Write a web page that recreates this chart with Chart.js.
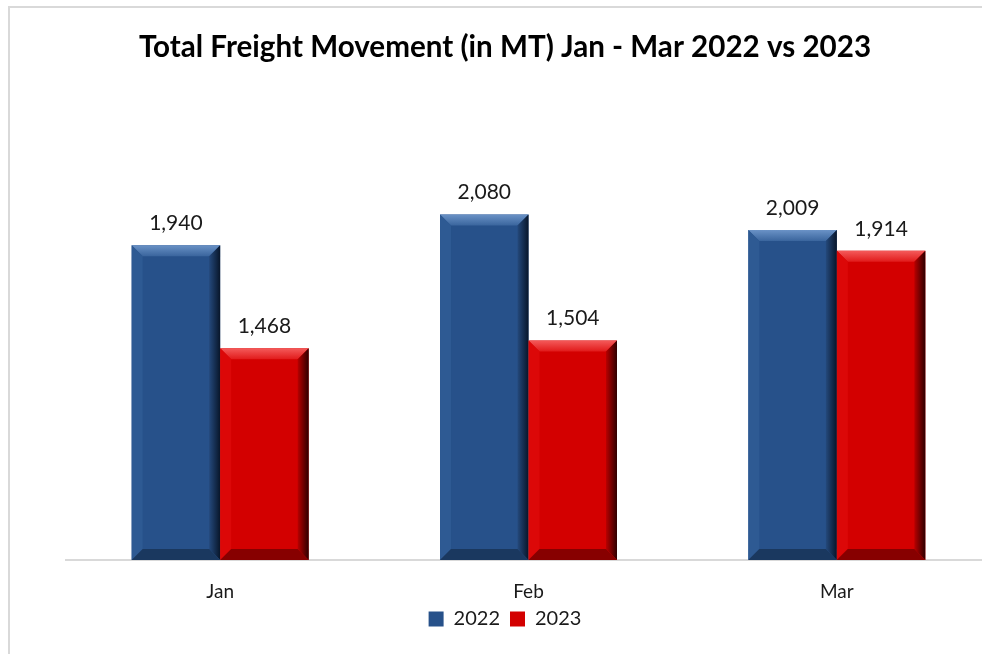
<!DOCTYPE html>
<html>
<head>
<meta charset="utf-8">
<script src="https://cdn.jsdelivr.net/npm/chart.js@4.4.0/dist/chart.umd.min.js"></script>
<style>
  html, body { margin: 0; padding: 0; background: #fff; overflow: hidden; }
  #frame {
    position: absolute; left: 8px; top: 6px;
    border-left: 2px solid #d9d9d9; border-top: 2px solid #d9d9d9;
    width: 990px; height: 660px;
  }
  canvas { display: block; }
</style>
</head>
<body>
<div id="frame"><canvas id="freight-chart" width="990" height="646"></canvas></div>
<script>
const CATEGORIES = ["Jan", "Feb", "Mar"];
const SERIES_NAMES = ["2022", "2023"];
const VALUES_2022 = [1940, 2080, 2009];
const VALUES_2023 = [1468, 1504, 1914];
const Y_MIN = 500;
const Y_MAX = 2500;

const FONT = "Lato, 'Open Sans', sans-serif";

// body / bevel shades per series
const BAR_STYLE = [
  { body: "#27518a", top: ["#6a92c6", "#3a659d"], left: "#2e5a93", right: ["#24497c", "#08162a"], bottom: "#1a385f" },
  { body: "#d30000", top: ["#f45a5a", "#e11a1a"], left: "#dc0808", right: ["#b80000", "#2e0000"], bottom: "#870000" },
];

function poly(ctx, pts, fill) {
  ctx.beginPath();
  ctx.moveTo(pts[0][0], pts[0][1]);
  for (let i = 1; i < pts.length; i++) ctx.lineTo(pts[i][0], pts[i][1]);
  ctx.closePath();
  ctx.fillStyle = fill;
  ctx.fill();
}

const bevelPlugin = {
  id: "bevel",
  afterDatasetsDraw(chart) {
    const ctx = chart.ctx;
    const area = chart.chartArea;
    chart.data.datasets.forEach((ds, di) => {
      const st = BAR_STYLE[di];
      chart.getDatasetMeta(di).data.forEach((bar) => {
        const { x, y, base, width } = bar.getProps(["x", "y", "base", "width"], true);
        const l = x - width / 2, r = x + width / 2, t = y, b = Math.min(base, area.bottom);
        const bv = 11;
        ctx.save();
        let g = ctx.createLinearGradient(0, t, 0, t + bv);
        g.addColorStop(0, st.top[0]);
        g.addColorStop(1, st.top[1]);
        poly(ctx, [[l, t], [r, t], [r - bv, t + bv], [l + bv, t + bv]], g);
        poly(ctx, [[l, t], [l + bv, t + bv], [l + bv, b - bv], [l, b]], st.left);
        g = ctx.createLinearGradient(r - bv, 0, r, 0);
        g.addColorStop(0, st.right[0]);
        g.addColorStop(1, st.right[1]);
        poly(ctx, [[r, t], [r, b], [r - bv, b - bv], [r - bv, t + bv]], g);
        poly(ctx, [[l, b], [r, b], [r - bv, b - bv], [l + bv, b - bv]], st.bottom);
        ctx.restore();
      });
    });
  },
};

const valueLabelPlugin = {
  id: "valueLabels",
  afterDatasetsDraw(chart) {
    const ctx = chart.ctx;
    ctx.save();
    ctx.font = "21px " + FONT;
    ctx.fillStyle = "#1a1a1a";
    ctx.textAlign = "center";
    ctx.textBaseline = "middle";
    chart.data.datasets.forEach((ds, di) => {
      chart.getDatasetMeta(di).data.forEach((bar, i) => {
        ctx.fillText(ds.data[i].toLocaleString("en-US"), bar.x, bar.y - 22);
      });
    });
    ctx.restore();
  },
};

new Chart(document.getElementById("freight-chart"), {
  type: "bar",
  data: {
    labels: CATEGORIES,
    datasets: [
      { label: SERIES_NAMES[0], data: VALUES_2022, backgroundColor: BAR_STYLE[0].body },
      { label: SERIES_NAMES[1], data: VALUES_2023, backgroundColor: BAR_STYLE[1].body },
    ],
  },
  options: {
    responsive: false,
    animation: false,
    categoryPercentage: 0.574,
    barPercentage: 1,
    layout: { padding: { left: 0, right: 0, top: 0, bottom: 15 } },
    scales: {
      x: {
        grid: { display: false, drawTicks: false },
        border: { display: true, color: "#d9d9d9", width: 2 },
        ticks: { color: "#1a1a1a", font: { family: FONT, size: 19 }, padding: 20 },
        afterFit: (scale) => { scale.height = 39; },
      },
      y: {
        min: Y_MIN,
        max: Y_MAX,
        grid: { display: false },
        border: { display: false },
        ticks: { display: false },
        afterFit: (scale) => { scale.width = 56; },
      },
      yRight: {
        position: "right",
        grid: { display: false },
        border: { display: false },
        ticks: { display: false },
        afterFit: (scale) => { scale.width = 9; },
      },
    },
    plugins: {
      title: {
        display: true,
        text: "Total Freight Movement (in MT) Jan - Mar 2022 vs 2023",
        color: "#000",
        font: { family: FONT, size: 29.6, weight: "bold" },
        padding: { top: 21.2, bottom: 58 },
      },
      legend: {
        position: "bottom",
        labels: {
          color: "#1a1a1a",
          font: { family: FONT, size: 20 },
          boxWidth: 15,
          boxHeight: 15,
          padding: 10,
        },
      },
      tooltip: { enabled: false },
    },
  },
  plugins: [bevelPlugin, valueLabelPlugin],
});
</script>
</body>
</html>
